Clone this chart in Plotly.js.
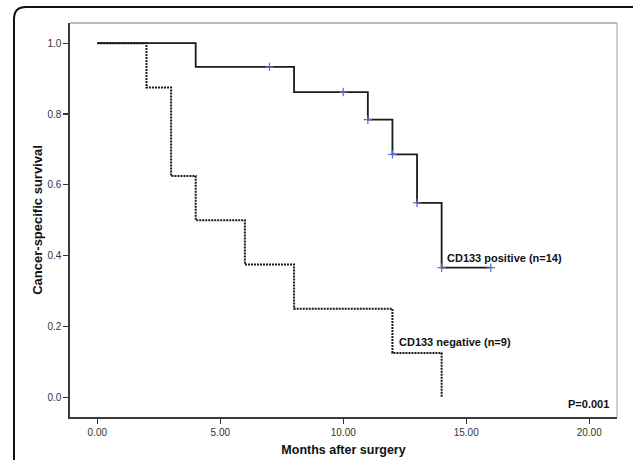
<!DOCTYPE html>
<html>
<head>
<meta charset="utf-8">
<script src="https://cdn.plot.ly/plotly-3.0.1.min.js"></script>
<style>
html,body{margin:0;padding:0;background:#fff;overflow:hidden;}
#chart{width:633px;height:460px;}
</style>
</head>
<body>
<div id="chart"></div>
<script>
// CD133 positive (n=14): Kaplan-Meier steps
const posTime = [0, 4, 8, 11, 12, 13, 14, 16];
const posSurv = [1.0, 0.933, 0.862, 0.784, 0.686, 0.549, 0.366, 0.366];
const posCensorTime = [7, 10, 11, 12, 13, 14, 16];
const posCensorSurv = [0.933, 0.862, 0.784, 0.686, 0.549, 0.366, 0.366];

// CD133 negative (n=9)
const negTime = [0, 2, 3, 4, 6, 8, 12, 14];
const negSurv = [1.0, 0.875, 0.625, 0.5, 0.375, 0.25, 0.125, 0.0];

const xTicks = [0, 5, 10, 15, 20];
const xTickText = ["0.00", "5.00", "10.00", "15.00", "20.00"];
const yTicks = [0, 0.2, 0.4, 0.6, 0.8, 1.0];
const yTickText = ["0.0", "0.2", "0.4", "0.6", "0.8", "1.0"];

const sans = '"Liberation Sans", Arial, sans-serif';

const traces = [
  {
    x: posTime, y: posSurv, type: 'scatter', mode: 'lines',
    line: {shape: 'hv', color: '#1a1a1a', width: 1.8},
    hoverinfo: 'skip', showlegend: false
  },
  {
    x: posCensorTime, y: posCensorSurv, type: 'scatter', mode: 'markers',
    marker: {symbol: 'cross-thin-open', size: 6, color: '#5b6ccc', line: {color: '#5b6ccc', width: 1.2}},
    hoverinfo: 'skip', showlegend: false
  },
  {
    x: negTime, y: negSurv, type: 'scatter', mode: 'lines',
    line: {shape: 'hv', color: '#1a1a1a', width: 2, dash: '2px,1px'},
    hoverinfo: 'skip', showlegend: false
  }
];

// rounded outer frame in paper coords (plot area: x 70..617, y 23..417 px)
const W = 547, H = 394;
const fx = (14 - 70) / W, fy = (417 - 7) / H;
const rx = 12 / W, ry = 12 / H;
const framePath = `M ${fx},-0.2 L ${fx},${fy - ry} Q ${fx},${fy} ${fx + rx},${fy} L 1.2,${fy}`;

const layout = {
  width: 633, height: 460,
  margin: {l: 70, r: 16, t: 23, b: 43},
  paper_bgcolor: '#ffffff', plot_bgcolor: '#ffffff',
  xaxis: {
    range: [-1.11, 21.13],
    tickvals: xTicks, ticktext: xTickText,
    ticks: 'outside', ticklen: 5, tickwidth: 1.2, tickcolor: '#333',
    showgrid: false, zeroline: false,
    showline: true, linecolor: '#3a3a3a', linewidth: 1.6,
    tickfont: {family: sans, size: 10, color: '#333'},
    title: {text: 'Months after surgery', font: {family: sans, size: 12.5, color: '#111', weight: 'bold'}, standoff: 8}
  },
  yaxis: {
    range: [-0.0556, 1.057],
    tickvals: yTicks, ticktext: yTickText,
    ticks: 'outside', ticklen: 5, tickwidth: 1.2, tickcolor: '#333',
    showgrid: false, zeroline: false,
    showline: true, linecolor: '#3a3a3a', linewidth: 1.6,
    tickfont: {family: sans, size: 10, color: '#333'},
    title: {text: 'Cancer-specific survival', font: {family: sans, size: 13, color: '#111', weight: 'bold'}, standoff: 2}
  },
  shapes: [
    {type: 'line', xref: 'paper', yref: 'paper', x0: 0, x1: 1, y0: 1, y1: 1, line: {color: '#777', width: 1}},
    {type: 'line', xref: 'paper', yref: 'paper', x0: 1, x1: 1, y0: 0, y1: 1, line: {color: '#999', width: 1}},
    {type: 'path', xref: 'paper', yref: 'paper', path: framePath, line: {color: '#111', width: 2}}
  ],
  annotations: [
    {x: 14.13, y: 0.393, xref: 'x', yref: 'y', text: 'CD133 positive (n=14)', showarrow: false,
     xanchor: 'left', yanchor: 'middle', font: {family: sans, size: 11, color: '#111', weight: 'bold'}},
    {x: 12.17, y: 0.157, xref: 'x', yref: 'y', text: 'CD133 negative (n=9)', showarrow: false,
     xanchor: 'left', yanchor: 'middle', font: {family: sans, size: 11, color: '#111', weight: 'bold'}},
    {x: 0.9885, y: 0.033, xref: 'paper', yref: 'paper', text: 'P=0.001', showarrow: false,
     xanchor: 'right', yanchor: 'middle', font: {family: sans, size: 11, color: '#111', weight: 'bold'}}
  ]
};

Plotly.newPlot('chart', traces, layout, {staticPlot: true, displayModeBar: false});
</script>
</body>
</html>
